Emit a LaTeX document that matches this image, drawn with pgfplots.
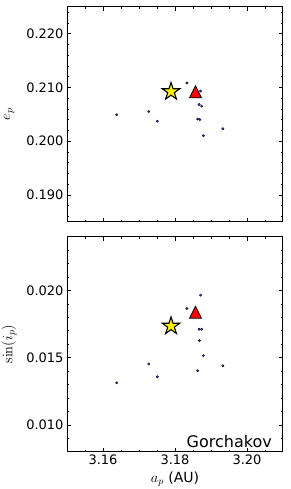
\documentclass[border=0pt]{standalone}
\usepackage[no-math]{fontspec}
\setmainfont{DejaVu Sans}
\usepackage{pgfplots}
\pgfplotsset{compat=1.18}

\pgfdeclareplotmark{mplstar}{%
  \pgfpathmoveto{\pgfpointpolar{90}{\pgfplotmarksize}}%
  \pgfpathlineto{\pgfpointpolar{126}{0.382\pgfplotmarksize}}%
  \pgfpathlineto{\pgfpointpolar{162}{\pgfplotmarksize}}%
  \pgfpathlineto{\pgfpointpolar{198}{0.382\pgfplotmarksize}}%
  \pgfpathlineto{\pgfpointpolar{234}{\pgfplotmarksize}}%
  \pgfpathlineto{\pgfpointpolar{270}{0.382\pgfplotmarksize}}%
  \pgfpathlineto{\pgfpointpolar{306}{\pgfplotmarksize}}%
  \pgfpathlineto{\pgfpointpolar{342}{0.382\pgfplotmarksize}}%
  \pgfpathlineto{\pgfpointpolar{18}{\pgfplotmarksize}}%
  \pgfpathlineto{\pgfpointpolar{54}{0.382\pgfplotmarksize}}%
  \pgfpathclose
  \pgfusepathqfillstroke}
\pgfdeclareplotmark{mpltri}{%
  \pgfpathmoveto{\pgfqpoint{0pt}{\pgfplotmarksize}}%
  \pgfpathlineto{\pgfqpoint{-\pgfplotmarksize}{-\pgfplotmarksize}}%
  \pgfpathlineto{\pgfqpoint{\pgfplotmarksize}{-\pgfplotmarksize}}%
  \pgfpathclose
  \pgfusepathqfillstroke}

\definecolor{dotblue}{RGB}{70,70,255}

\pgfplotsset{
  panel/.style={
    width=216pt, height=215pt, scale only axis,
    xmin=3.15, xmax=3.21,
    xtick={3.16,3.18,3.20},
    minor xtick={3.155,3.165,3.17,3.175,3.185,3.19,3.195,3.205},
    xtick pos=both, ytick pos=both,
    xticklabel pos=lower, yticklabel pos=left,
    tick align=inside,
    scaled ticks=false,
    major tick length=4pt, minor tick length=2pt,
    every tick/.style={black, line width=0.6pt},
    axis line style={line width=1pt},
    /pgf/number format/assume math mode=true,
    tick label style={font=\fontsize{13}{15}\selectfont},
    label style={font=\fontsize{14}{16}\selectfont},
    x tick label style={/pgf/number format/fixed, /pgf/number format/fixed zerofill, /pgf/number format/precision=2},
    y tick label style={/pgf/number format/fixed, /pgf/number format/fixed zerofill, /pgf/number format/precision=3},
    ylabel style={at={(axis description cs:-0.268,0.5)}, anchor=center, rotate=0},
    clip=false,
  },
  dots/.style={only marks, mark=*, mark size=1.15pt, mark options={draw=none, fill=dotblue}},
  starm/.style={only marks, mark=mplstar, mark size=9.2pt, mark options={fill=yellow, draw=black, line width=1.1pt}},
  trim/.style={only marks, mark=mpltri, mark size=6pt, mark options={fill=red, draw=black, line width=0.8pt}},
}

\begin{document}
\begin{tikzpicture}
\useasboundingbox (0pt,0pt) rectangle (291pt,-489pt);

\begin{axis}[panel, at={(67pt,-221.7pt)}, anchor=south west,
  ymin=0.185, ymax=0.225,
  ytick={0.19,0.20,0.21,0.22},
  minor ytick={0.186,0.188,0.192,0.194,0.196,0.198,0.202,0.204,0.206,0.208,0.212,0.214,0.216,0.218,0.222,0.224},
  xticklabels=\empty,
  ylabel={$e_p$}]
\addplot[dots] table {
3.1638 0.2049
3.1727 0.2055
3.1751 0.2037
3.1833 0.2108
3.1871 0.2093
3.1867 0.2068
3.1874 0.2065
3.1863 0.2041
3.1869 0.2040
3.1879 0.2010
3.1933 0.2023
};
\addplot[starm] coordinates {(3.1789,0.2092)};
\addplot[trim] coordinates {(3.18569,0.20916)};
\end{axis}

\begin{axis}[panel, at={(67pt,-451.7pt)}, anchor=south west,
  ymin=0.008, ymax=0.024,
  ytick={0.010,0.015,0.020},
  minor ytick={0.009,0.011,0.012,0.013,0.014,0.016,0.017,0.018,0.019,0.021,0.022,0.023},
  xlabel={$a_p$ (AU)},
  ylabel={$\sin(i_p)$}]
\addplot[dots] table {
3.1871 0.01965
3.1833 0.01866
3.1867 0.01711
3.1874 0.01711
3.1868 0.01627
3.1879 0.01515
3.1727 0.01453
3.1933 0.01440
3.1751 0.01358
3.1863 0.01403
3.1638 0.01313
};
\addplot[starm] coordinates {(3.1789,0.01735)};
\addplot[trim] coordinates {(3.18569,0.01838)};
\node[anchor=base east, font=\fontsize{16}{18}\selectfont, inner sep=0pt] at ([xshift=-11pt,yshift=4.5pt]rel axis cs:1,0) {Gorchakov};
\end{axis}
\end{tikzpicture}
\end{document}
